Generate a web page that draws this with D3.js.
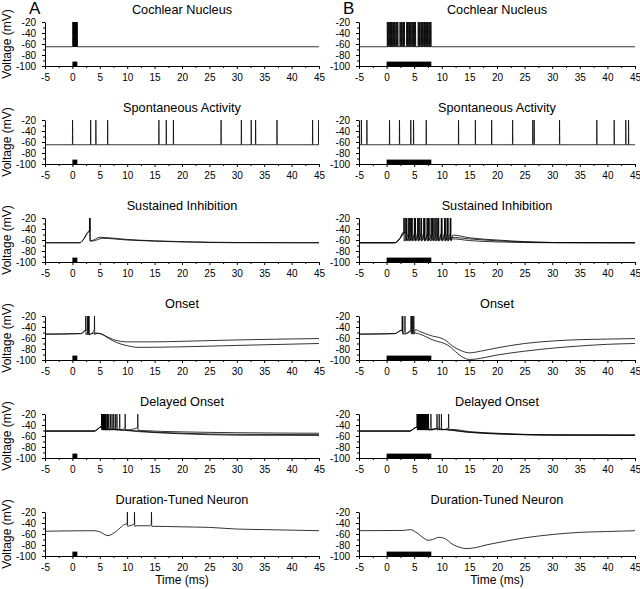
<!DOCTYPE html>
<html>
<head>
<meta charset="utf-8">
<script src="https://cdn.jsdelivr.net/npm/d3@7"></script>
<style>
  body { margin: 0; background: #fff; }
  svg { display: block; }
  text { font-family: "Liberation Sans", Arial, sans-serif; fill: #000; }
</style>
</head>
<body>
<svg id="chart" width="640" height="589"></svg>
<script>
// ---- data ----
const rowTitles = ["Cochlear Nucleus", "Spontaneous Activity", "Sustained Inhibition",
                   "Onset", "Delayed Onset", "Duration-Tuned Neuron"];
const xTicks = [-5, 0, 5, 10, 15, 20, 25, 30, 35, 40, 45];
const xMinor = [-2.5, 2.5, 7.5, 12.5, 17.5, 22.5, 27.5, 32.5, 37.5, 42.5];
const yTicks = [-20, -40, -60, -80, -100];
const yMinor = [-30, -50, -70, -90];
const stimA = [0, 0.9];   // ms, stimulus bar in column A
const stimB = [0, 8.1];   // ms, stimulus bar in column B
const stimV = [-100, -92];

const rest65 = [[-5, -65], [45, -65]];

// Cochlear nucleus
const cnSpikesA = [0.05, 0.15, 0.25, 0.35, 0.45, 0.55, 0.65, 0.75, 0.85];
const cnSpikesB = [0.1, 0.25, 0.4, 0.55, 0.7, 0.85, 1.0, 1.2, 1.35, 1.5, 1.7, 1.85, 2.0,
                   2.4, 2.55, 2.7, 2.9, 3.05, 3.2, 3.6, 3.75, 3.9, 4.1, 4.25, 4.4, 4.6,
                   4.75, 4.9, 5.05, 5.2, 5.7, 5.85, 6.0, 6.2, 6.35, 6.5, 6.7, 6.85, 7.0,
                   7.2, 7.35, 7.5, 7.7, 7.85, 8.0];

// Spontaneous activity
const spSpikesA = [0.0, 3.3, 4.25, 6.4, 15.75, 17.1, 18.4, 27.1, 30.8, 32.6, 33.4, 37.3, 43.8, 44.9];
const spSpikesB = [-4.6, -3.6, 0.5, 2.3, 4.35, 4.85, 7.15, 13.0, 16.05, 19.0, 22.8, 26.45,
                   26.7, 31.3, 38.05, 41.2, 43.3, 43.8];

// Sustained inhibition
const siA1 = [[-5, -65], [1.4, -65], [2.0, -59], [3.0, -44], [3.5, -61], [5.0, -55], [6.0, -55.5],
              [10, -59], [15, -61.5], [20, -63], [30, -64.5], [45, -65]];
const siA2 = [[-5, -65], [1.4, -65], [2.1, -58], [3.1, -45], [3.6, -62], [5.5, -57], [10, -60],
              [20, -63.5], [30, -65], [45, -65]];
const siSpikesA1 = [3.1];
const siSpikesA2 = [3.2];
const siB1 = [[-5, -65], [1.5, -65], [2.4, -57], [3.0, -46], [12.0, -51], [15, -56], [20, -60],
              [25, -63], [30, -64.5], [45, -65]];
const siB2 = [[-5, -65], [1.5, -65], [2.5, -56], [3.2, -46], [11.6, -55], [15, -58], [20, -61.5],
              [27, -64], [35, -65], [45, -65]];
const siB3 = [[-5, -65], [1.5, -65], [2.6, -55], [3.4, -46], [12.0, -58], [15, -61], [20, -63.5],
              [30, -65], [45, -65]];
const siSpikesB1 = [3.1, 3.6, 4.1, 4.6, 5.2, 5.7, 6.2, 6.8, 7.3, 7.8, 8.4, 8.9, 9.4, 10.0, 10.5, 11.0, 11.6];
const siSpikesB2 = [3.3, 3.9, 4.5, 5.0, 5.6, 6.3, 6.9, 7.5, 8.1, 8.7, 9.3, 9.9, 10.5, 11.1];
const siSpikesB3 = [3.5, 4.3, 5.1, 5.9, 6.7, 7.5, 8.3, 9.1, 9.9, 10.7, 11.5];

// Onset
const onA1 = [[-5, -53], [1.5, -52], [2.2, -47], [3.5, -52], [4.5, -51], [6, -56], [7.5, -63],
              [10, -67], [15, -67], [20, -66], [30, -63.5], [45, -61]];
const onA2 = [[-5, -53], [1.5, -52], [2.5, -46], [4.3, -52], [5, -52], [6.5, -60], [8, -68],
              [10, -74], [12, -77], [20, -76], [30, -73.5], [45, -70]];
const onSpikesA1 = [2.4, 2.9];
const onSpikesA2 = [2.7, 3.0, 4.0];
const onB1 = [[-5, -53], [1.5, -52], [2.5, -47], [3.8, -50], [4.2, -47], [5.2, -45], [6, -48],
              [7, -52], [8.5, -57], [9.5, -59], [10.5, -63], [12, -75], [13.5, -83], [15, -87],
              [17, -84], [20, -78], [25, -70], [30, -65.5], [35, -63], [40, -62], [45, -61]];
const onB2 = [[-5, -53], [1.5, -52], [2.6, -46], [4.2, -49], [5.2, -51], [6, -53], [7, -57],
              [8, -62], [9.5, -67], [10.5, -70], [11.5, -76], [12.5, -85], [14, -96], [15, -99],
              [16, -98.5], [18, -95], [20, -91], [25, -84], [30, -78.5], [35, -74.5], [40, -71.5], [45, -70]];
const onSpikesB1 = [2.8, 3.3, 4.4, 4.9];
const onSpikesB2 = [2.9, 4.5, 4.7];

// Delayed onset
const doA1 = [[-5, -51], [4, -51], [4.8, -46], [5.2, -43], [12.5, -50], [20, -52.5], [30, -54], [45, -55]];
const doA2 = [[-5, -51], [4, -51], [4.8, -46], [5.25, -43], [8.5, -49], [15, -53], [20, -55], [30, -57], [45, -57.5]];
const doA3 = [[-5, -51], [4, -51], [4.8, -46], [5.3, -43], [7, -48], [12, -52], [20, -56], [30, -58.5], [45, -59]];
const doSpikesA1 = [5.3, 5.5, 5.7, 5.9, 6.3, 6.9, 7.5, 8.1, 8.6, 9.6, 11.9];
const doSpikesA2 = [5.35, 5.6, 5.8, 6.1, 6.6, 7.2, 7.8];
const doSpikesA3 = [5.4, 5.65, 5.95, 6.4];
const doB1 = [[-5, -51], [4.2, -51], [5.0, -46], [5.4, -44], [11.8, -48], [15, -52], [20, -55], [25, -57], [30, -58], [45, -58]];
const doB2 = [[-5, -51], [4.2, -51], [5.0, -46], [5.45, -44], [10, -48], [15, -53], [20, -56], [30, -58], [45, -58.5]];
const doB3 = [[-5, -51], [4.2, -51], [5.0, -46], [5.5, -44], [8.5, -47], [15, -53.5], [22, -57], [30, -58.5], [45, -59]];
const doSpikesB1 = [5.5, 5.7, 5.9, 6.1, 6.4, 6.7, 7.0, 7.4, 8.0, 9.1, 9.9, 11.2];
const doSpikesB2 = [5.55, 5.8, 6.05, 6.3, 6.6, 6.9, 7.2, 7.5, 9.5];
const doSpikesB3 = [5.6, 5.85, 6.2, 6.5, 6.8, 7.1, 7.55];

// Duration-tuned neuron
const dtA = [[-5, -55], [4, -54], [5, -56], [6.5, -63], [8, -55], [9.8, -42], [10.5, -45], [11.1, -43],
             [11.8, -45], [14.1, -45], [14.3, -43], [14.8, -46], [20, -47], [25, -48], [30, -51],
             [35, -52], [45, -54]];
const dtSpikesA = [10.0, 11.3, 14.4];
const dtB = [[-5, -54], [3, -53.5], [4.3, -52], [5.5, -58], [6.8, -68], [7.5, -71.5], [8.3, -70],
             [9.5, -66], [10.5, -68], [12, -79], [13.5, -85], [14.5, -86.5], [16, -85], [18, -80],
             [20, -76], [25, -67], [30, -61], [35, -57], [40, -55.5], [45, -54]];

// trace = { path, spikes, thr (spike start), ahp (after spike) }
const panels = [
  [ // column A
    [{ path: rest65, spikes: cnSpikesA, thr: -65, ahp: -65 }],
    [{ path: rest65, spikes: spSpikesA, thr: -65, ahp: -65 }],
    [{ path: siA1, spikes: siSpikesA1, thr: -44, ahp: -61 },
     { path: siA2, spikes: siSpikesA2, thr: -45, ahp: -62 }],
    [{ path: onA1, spikes: onSpikesA1, thr: -45, ahp: -54 },
     { path: onA2, spikes: onSpikesA2, thr: -45, ahp: -54 }],
    [{ path: doA1, spikes: doSpikesA1, thr: -45, ahp: -49 },
     { path: doA2, spikes: doSpikesA2, thr: -45, ahp: -49 },
     { path: doA3, spikes: doSpikesA3, thr: -45, ahp: -49 }],
    [{ path: dtA, spikes: dtSpikesA, thr: -42, ahp: -46 }]
  ],
  [ // column B
    [{ path: rest65, spikes: cnSpikesB, thr: -65, ahp: -65 }],
    [{ path: rest65, spikes: spSpikesB, thr: -65, ahp: -65 }],
    [{ path: siB1, spikes: siSpikesB1, thr: -46, ahp: -62 },
     { path: siB2, spikes: siSpikesB2, thr: -47, ahp: -61 },
     { path: siB3, spikes: siSpikesB3, thr: -48, ahp: -60 }],
    [{ path: onB1, spikes: onSpikesB1, thr: -46, ahp: -52 },
     { path: onB2, spikes: onSpikesB2, thr: -46, ahp: -53 }],
    [{ path: doB1, spikes: doSpikesB1, thr: -45, ahp: -49 },
     { path: doB2, spikes: doSpikesB2, thr: -45, ahp: -49 },
     { path: doB3, spikes: doSpikesB3, thr: -45, ahp: -49 }],
    [{ path: dtB, spikes: [], thr: -45, ahp: -50 }]
  ]
];

// ---- layout ----
const colX = [[45, 319], [359, 635]];
const rowTop = [22, 120, 218, 316, 414, 512];
const axisH = 44;
const stims = [stimA, stimB];
const colLetters = ["A", "B"];
const tickFont = "10px";

const svg = d3.select("#chart");

// merge the slow path with spike shapes, sorted by time
function tracePoints(tr) {
  const pts = tr.path.map(p => ({ t: p[0], v: p[1] }));
  tr.spikes.forEach(s => {
    pts.push({ t: s, v: tr.thr }, { t: s + 0.03, v: -20 }, { t: s + 0.08, v: tr.ahp });
  });
  return pts.sort((a, b) => a.t - b.t);
}

panels.forEach((col, ci) => {
  const x = d3.scaleLinear().domain([-5, 45]).range(colX[ci]);

  col.forEach((traces, ri) => {
    const top = rowTop[ri];
    const y = d3.scaleLinear().domain([-100, -20]).range([top + axisH, top]);
    const g = svg.append("g");

    // title
    g.append("text")
      .attr("x", (colX[ci][0] + colX[ci][1]) / 2)
      .attr("y", top - 8)
      .attr("text-anchor", "middle")
      .style("font-size", "12.7px")
      .text(rowTitles[ri]);

    // clip
    const clipId = "clip" + ci + ri;
    svg.append("clipPath").attr("id", clipId)
      .append("rect")
      .attr("x", colX[ci][0]).attr("y", top - 1)
      .attr("width", colX[ci][1] - colX[ci][0]).attr("height", axisH + 1);

    // stimulus bar
    g.append("rect")
      .attr("x", x(stims[ci][0]))
      .attr("y", y(stimV[1]))
      .attr("width", x(stims[ci][1]) - x(stims[ci][0]))
      .attr("height", y(stimV[0]) - y(stimV[1]))
      .attr("fill", "#000");

    // traces
    const lineGen = d3.line().x(d => x(d.t)).y(d => y(d.v)).curve(d3.curveMonotoneX);
    traces.forEach(tr => {
      g.append("path")
        .attr("clip-path", "url(#" + clipId + ")")
        .attr("d", lineGen(tracePoints(tr)))
        .attr("fill", "none")
        .attr("stroke", "#000")
        .attr("stroke-width", 0.8);
    });

    // x axis
    const gx = g.append("g").attr("transform", "translate(0," + (top + axisH) + ")");
    gx.call(d3.axisBottom(x).tickValues(xTicks).tickSize(3).tickSizeOuter(0).tickPadding(5)
      .tickFormat(d => String(d)));
    gx.append("g").call(d3.axisBottom(x).tickValues(xMinor).tickSize(2).tickFormat(""))
      .select(".domain").remove();
    gx.selectAll("text").style("font-size", tickFont).style("font-family", "'Liberation Sans', Arial, sans-serif");

    // y axis
    const gy = g.append("g").attr("transform", "translate(" + colX[ci][0] + ",0)");
    gy.call(d3.axisLeft(y).tickValues(yTicks).tickSize(3).tickSizeOuter(0).tickPadding(6)
      .tickFormat(d => String(d)));
    gy.append("g").call(d3.axisLeft(y).tickValues(yMinor).tickSize(2).tickFormat(""))
      .select(".domain").remove();
    gy.selectAll("text").style("font-size", tickFont).style("font-family", "'Liberation Sans', Arial, sans-serif");

    svg.selectAll(".domain, .tick line").attr("stroke", "#000").attr("stroke-width", 1);

    // y label (column A only)
    if (ci === 0) {
      g.append("text")
        .attr("transform", "translate(11," + (top + axisH / 2) + ") rotate(-90)")
        .attr("text-anchor", "middle")
        .style("font-size", "12px")
        .text("Voltage (mV)");
    }
  });

  // column letter
  svg.append("text")
    .attr("x", colX[ci][0] - 16)
    .attr("y", 14)
    .style("font-size", "17px")
    .text(colLetters[ci]);

  // x label
  svg.append("text")
    .attr("x", (colX[ci][0] + colX[ci][1]) / 2)
    .attr("y", 584)
    .attr("text-anchor", "middle")
    .style("font-size", "12px")
    .text("Time (ms)");
});
</script>
</body>
</html>
